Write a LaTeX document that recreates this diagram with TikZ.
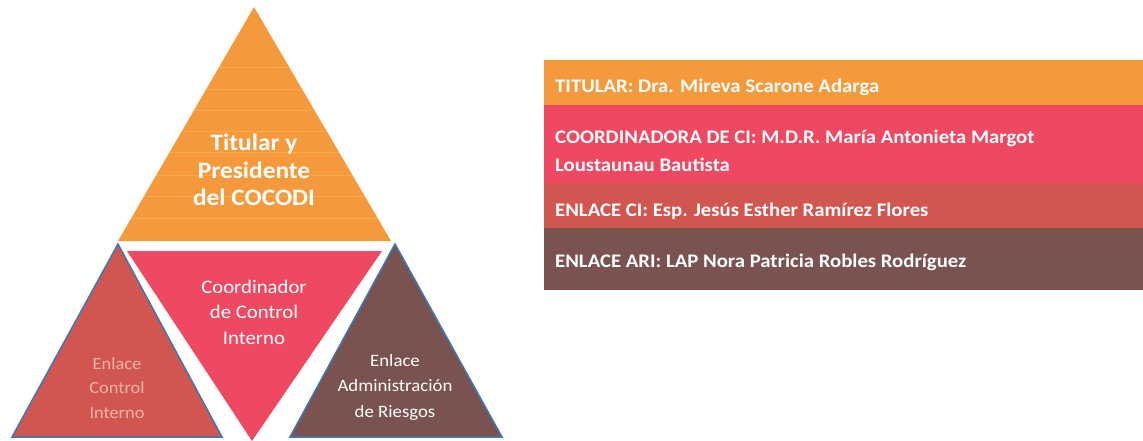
\documentclass[tikz,border=0pt]{standalone}
\usepackage{fontspec}
\setmainfont{Carlito}[FakeStretch=1.08]
\definecolor{torange}{HTML}{F59A3C}
\definecolor{tstripe}{HTML}{FBB84E}
\definecolor{tpink}{HTML}{EE4862}
\definecolor{tcoral}{HTML}{D25650}
\definecolor{tbrown}{HTML}{7A5350}
\definecolor{tblue}{HTML}{3C78B8}
\definecolor{tfaded}{HTML}{F2B4AC}
\begin{document}
\begin{tikzpicture}[x=1pt,y=-1pt,
  tri/.style={line join=miter},
  tritext/.style={align=center,text=white,inner sep=0pt},
  bartext/.style={anchor=west,align=left,text=white,inner sep=0pt,font=\fontsize{19.2}{28}\selectfont\bfseries}]
\useasboundingbox (0,0) rectangle (1143,441);
\fill[white] (0,0) rectangle (1143,441);
% top triangle
\fill[torange] (254,7) -- (118,241) -- (391,241) -- cycle;
\begin{scope}
\clip (254,7) -- (118,241) -- (391,241) -- cycle;
\foreach \yy in {68,90,111,132,153,175,196,218}
  \draw[tstripe,line width=1pt,opacity=0.6] (100,\yy) -- (420,\yy);
\end{scope}
% inverted middle triangle
\fill[tpink] (127,251) -- (382,251) -- (252,441) -- cycle;
% left triangle
\filldraw[fill=tcoral,draw=tblue,line width=1.5pt,tri] (118,244) -- (12,437) -- (222,437) -- cycle;
% right triangle
\filldraw[fill=tbrown,draw=tblue,line width=1.5pt,tri] (395,244) -- (290,437) -- (502,437) -- cycle;
% triangle texts
\node[tritext,font=\fontsize{23.5}{27.5}\selectfont\bfseries] (titular) at (254,170) {Titular y\\Presidente\\del COCODI};
\node[tritext,font=\fontsize{19.2}{25.5}\selectfont] (coord) at (254,312) {Coordinador\\de Control\\Interno};
\node[tritext,text=tfaded,font=\fontsize{17}{24.5}\selectfont] (enlci) at (117,388) {Enlace\\Control\\Interno};
\node[tritext,font=\fontsize{17.4}{25.5}\selectfont] (enlari) at (395,387) {Enlace\\Administración\\de Riesgos};
% bars
\fill[torange] (544,60) rectangle (1143,105);
\fill[tpink] (544,105) rectangle (1143,183);
\fill[tcoral] (544,183) rectangle (1143,228);
\fill[tbrown] (544,228) rectangle (1143,290);
\node[bartext] (b1) at (555,87) {TITULAR: Dra. Mireva Scarone Adarga};
\node[bartext] (b2) at (555,151) {COORDINADORA DE CI: M.D.R. María Antonieta Margot\\Loustaunau Bautista};
\node[bartext] (b3) at (555,211) {ENLACE CI: Esp. Jesús Esther Ramírez Flores};
\node[bartext] (b4) at (555,262) {ENLACE ARI: LAP Nora Patricia Robles Rodríguez};
\end{tikzpicture}
\end{document}
